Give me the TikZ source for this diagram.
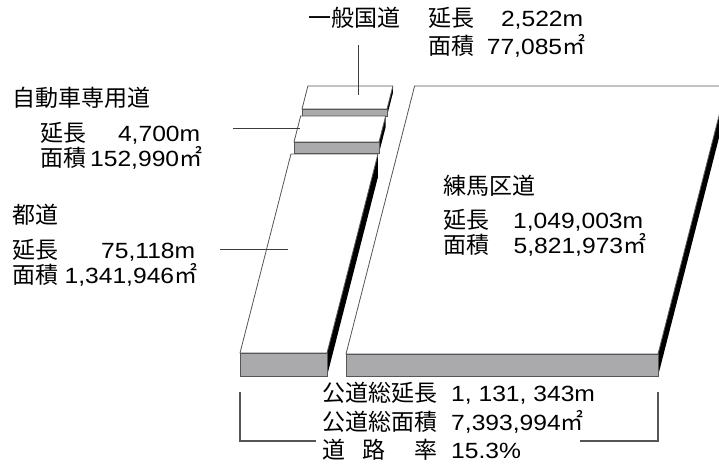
\documentclass[tikz,border=0pt]{standalone}
\usepackage{fontspec}
\usepackage{xcolor}
\usepackage{tikz}
\usetikzlibrary{positioning,calc}
\setmainfont{Liberation Sans}[FakeStretch=1.12]
\newfontfamily\jpfont{Noto Sans CJK JP}
\newcommand\jp[1]{{\jpfont\fontsize{23}{26}\selectfont #1}}
\newcommand\sqm{\jp{㎡}}
\newcommand\kv[3]{\hbox to #1{\jp{#2}\hfil #3}}
\definecolor{edgegray}{RGB}{85,85,85}
\definecolor{frontgray}{RGB}{170,170,172}
\definecolor{leadgray}{RGB}{60,60,60}
\tikzset{
topface/.style = {draw=edgegray, line width=0.8pt, fill=white, line join=round},
frontface/.style = {draw=edgegray, line width=0.8pt, fill=frontgray},
sideface/.style = {fill=black},
lbl/.style = {anchor=west, inner sep=0pt, font=\fontsize{22}{26}\selectfont},
leader/.style = {draw=leadgray, line width=0.9pt},
bracket/.style = {draw=edgegray, line width=1.1pt}
}
% slab: front left x, front bottom y, width, front height, depth
\newcommand\slab[5]{%
  \pgfmathsetmacro\slabdx{0.256*#5}%
  \fill[sideface] (#1+#3,#2-#4) -- ++(\slabdx,-#5) -- ++(0,#4) -- (#1+#3,#2) -- cycle;
  \draw[topface] (#1,#2-#4) -- ++(#3,0) -- ++(\slabdx,-#5) -- ++(-#3,0) -- cycle;
  \draw[frontface] (#1,#2-#4) rectangle ++(#3,#4);
}

\begin{document}
\begin{tikzpicture}[x=1pt, y=-1pt]
    \useasboundingbox (0,0) rectangle (719,468);

    % slabs, back to front
    \slab{302}{116}{85}{7}{23}
    \slab{294}{153}{85}{11}{26}
    \slab{240}{376}{87}{23}{199}
    \slab{346}{376}{312}{22}{268}

    \node [lbl] (kokudo) at (308,18) {\jp{一般国道}};
    \node [lbl] (kokudoLen) at (428,18) {\kv{155pt}{延長}{2,522m}};
    \node [lbl] (kokudoArea) at (428,46) {\kv{157pt}{面積}{77,085\sqm}};

    \node [lbl] (jidosha) at (12,98) {\jp{自動車専用道}};
    \node [lbl] (jidoshaLen) at (40,133) {\kv{160pt}{延長}{4,700m}};
    \node [lbl] (jidoshaArea) at (40,158) {\kv{162pt}{面積}{152,990\sqm}};

    \node [lbl] (todo) at (12,215) {\jp{都道}};
    \node [lbl] (todoLen) at (12,250) {\kv{183pt}{延長}{75,118m}};
    \node [lbl] (todoArea) at (12,275) {\kv{185pt}{面積}{1,341,946\sqm}};

    \node [lbl] (kudo) at (443,186) {\jp{練馬区道}};
    \node [lbl] (kudoLen) at (443,220) {\kv{200pt}{延長}{1,049,003m}};
    \node [lbl] (kudoArea) at (443,245) {\kv{203pt}{面積}{5,821,973\sqm}};

    \node [lbl] (totLen) at (322,393) {\jp{公道総延長}\hspace{14pt}1, 131, 343m};
    \node [lbl] (totArea) at (322,422) {\jp{公道総面積}\hspace{14pt}7,393,994\sqm};
    \node [lbl] (rate) at (322,450) {\jp{道\hspace{0.75em}路\hspace{1.25em}率}\hspace{14pt}15.3\%};

    % leaders
    \coordinate (kokudoTop) at (358,45);
    \coordinate (kokudoTip) at (358,95);
    \coordinate (jidoshaEnd) at (233,128);
    \coordinate (jidoshaTip) at (300,128);
    \coordinate (todoEnd) at (220,249);
    \coordinate (todoTip) at (288,249);
    \draw [leader] (kokudoTop) -- (kokudoTip);
    \draw [leader] (jidoshaEnd) -- (jidoshaTip);
    \draw [leader] (todoEnd) -- (todoTip);

    % total bracket
    \coordinate (brL) at (240,392);
    \coordinate (brLend) at (316,441);
    \coordinate (brR) at (658,392);
    \coordinate (brRend) at (580,441);
    \draw [bracket] (brL) |- (brLend);
    \draw [bracket] (brR) |- (brRend);
\end{tikzpicture}
\end{document}
